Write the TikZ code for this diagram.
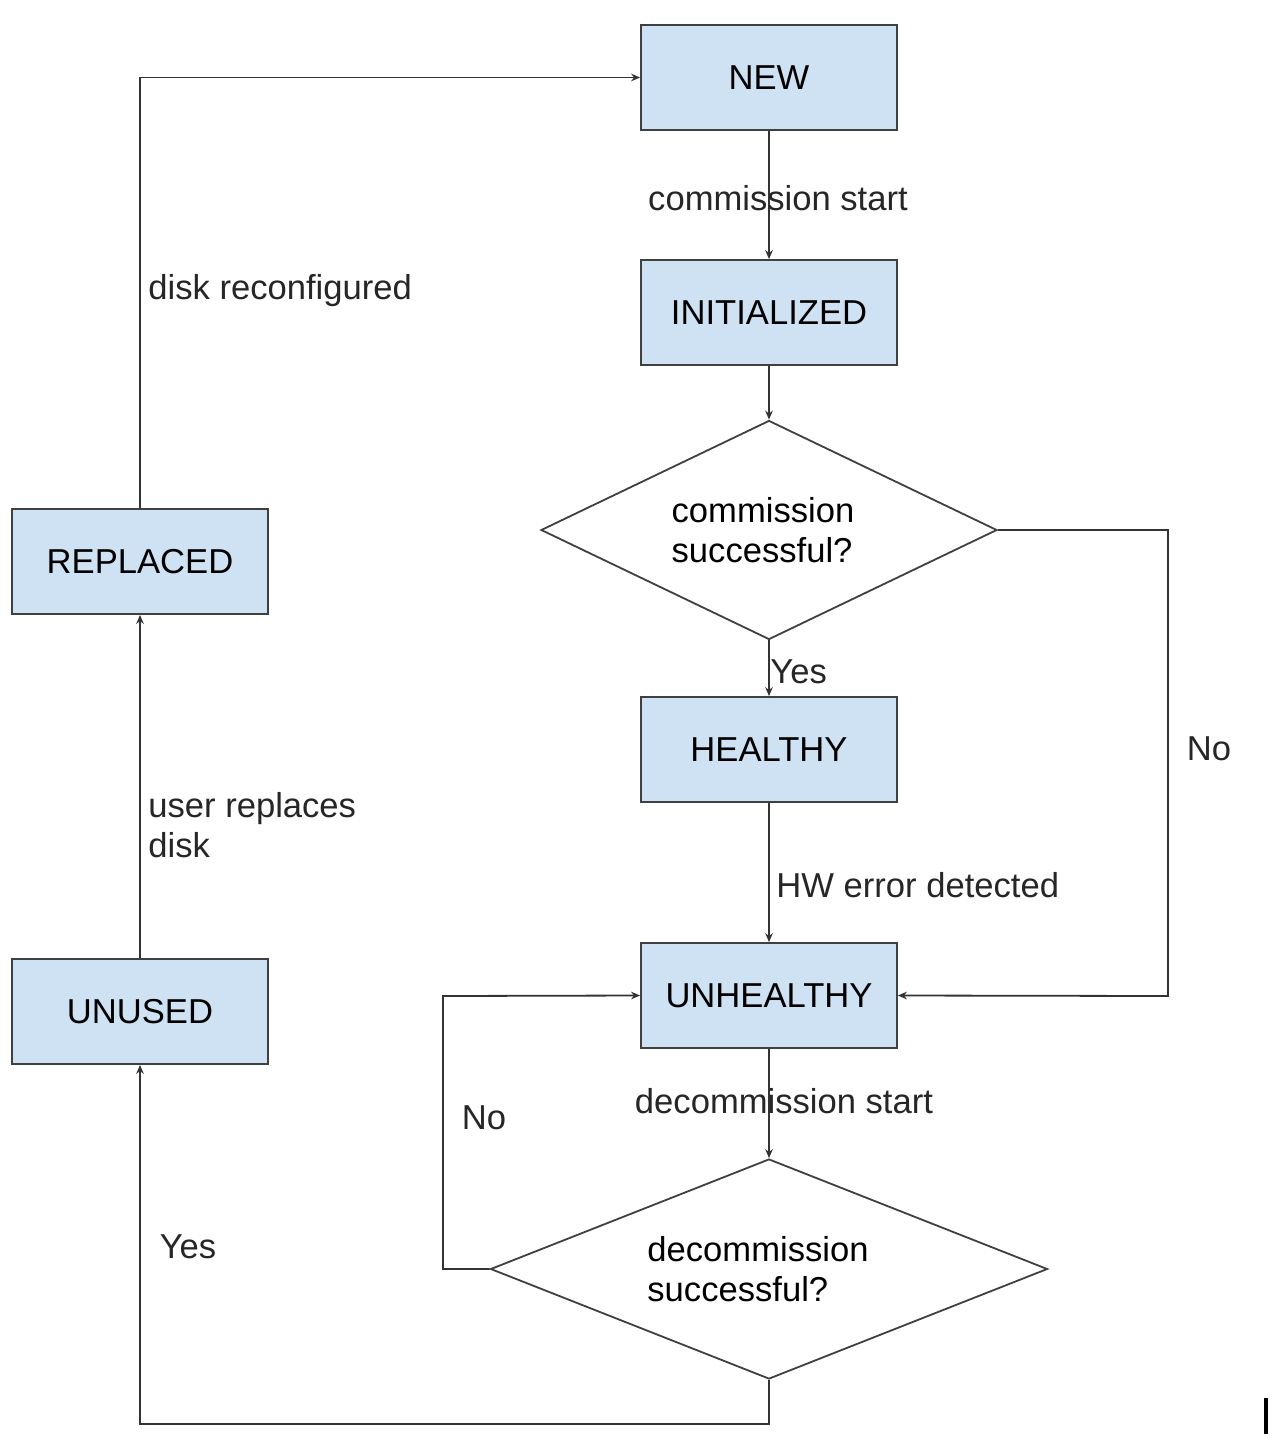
\documentclass[tikz,border=0pt]{standalone}
\usepackage{fontspec}
\setmainfont{Liberation Sans}
\usepackage{xcolor}
\usetikzlibrary{shapes.geometric,arrows.meta}
\definecolor{boxfill}{HTML}{CFE2F3}
\definecolor{boxline}{HTML}{404040}
\definecolor{flowline}{HTML}{333333}
\tikzset{
  statebox/.style={draw=boxline,fill=boxfill,line width=0.9pt,minimum width=128pt,minimum height=52.5pt,inner sep=0pt},
  decision/.style={diamond,draw=boxline,line width=0.9pt,inner sep=0pt,aspect=2,align=left},
  flowarrow/.style={draw=flowline,line width=0.9pt,-{Stealth[length=4.5pt,width=3.8pt]}},
  edgelabel/.style={inner sep=0pt,text height=12.4pt,text depth=0pt,text=black!85}
}

\begin{document}
\begin{tikzpicture}[x=0.5pt,y=-0.5pt,font=\fontsize{17.3}{20}\selectfont]
  \useasboundingbox[fill=white] (0,0) rectangle (1272,1440);
  \node[statebox] (new) at (769,77.5) {NEW};
  \node[statebox] (initialized) at (769,312.5) {INITIALIZED};
  \node[decision,minimum width=228pt,minimum height=109.5pt] (commissionok) at (769,530) {\hspace*{-6pt}commission\\\hspace*{-6pt}successful?};
  \node[statebox] (healthy) at (769,749.5) {HEALTHY};
  \node[statebox] (unhealthy) at (769,995.5) {UNHEALTHY};
  \node[decision,minimum width=278.5pt,minimum height=110pt] (decommissionok) at (769,1269) {\hspace*{-11pt}decommission\\\hspace*{-11pt}successful?};
  \node[statebox] (replaced) at (140,561.5) {REPLACED};
  \node[statebox] (unused) at (140,1011.5) {UNUSED};
  \coordinate (bendright) at (1168,996);
  \coordinate (bendleft) at (443,996);
  \coordinate (bendbottom) at (140,1424);
  \draw[flowarrow] (replaced.north) |- (new.west);
  \draw[flowarrow] (new) -- (initialized);
  \draw[flowarrow] (initialized) -- (commissionok);
  \draw[flowarrow] (commissionok) -- (healthy);
  \draw[flowarrow] (commissionok.east) -| (bendright) -- (unhealthy.east);
  \draw[flowarrow] (healthy) -- (unhealthy);
  \draw[flowarrow] (unhealthy) -- (decommissionok);
  \draw[flowarrow] (decommissionok.west) -| (bendleft) -- (unhealthy.west);
  \draw[flowarrow] (decommissionok.south) |- (bendbottom) -- (unused.south);
  \draw[flowarrow] (unused) -- (replaced);
  \node[edgelabel] (lblstart) at (778,198) {commission start};
  \node[edgelabel,anchor=west] (lblreconf) at (148,287) {disk reconfigured};
  \node[edgelabel,anchor=west] (lblyesup) at (770,671) {Yes};
  \node[edgelabel] (lblnoright) at (1209,748) {No};
  \node[edgelabel,anchor=west] (lblhw) at (776,885) {HW error detected};
  \node[align=left,anchor=west,inner sep=0pt,text=black!85] (lbluser) at (148,825) {user replaces\\disk};
  \node[edgelabel] (lbldecom) at (784,1101) {decommission start};
  \node[edgelabel] (lblnoleft) at (484,1117) {No};
  \node[edgelabel] (lblyesdown) at (188,1246) {Yes};
  \fill (1264,1398) rectangle (1268,1434);
\end{tikzpicture}
\end{document}
